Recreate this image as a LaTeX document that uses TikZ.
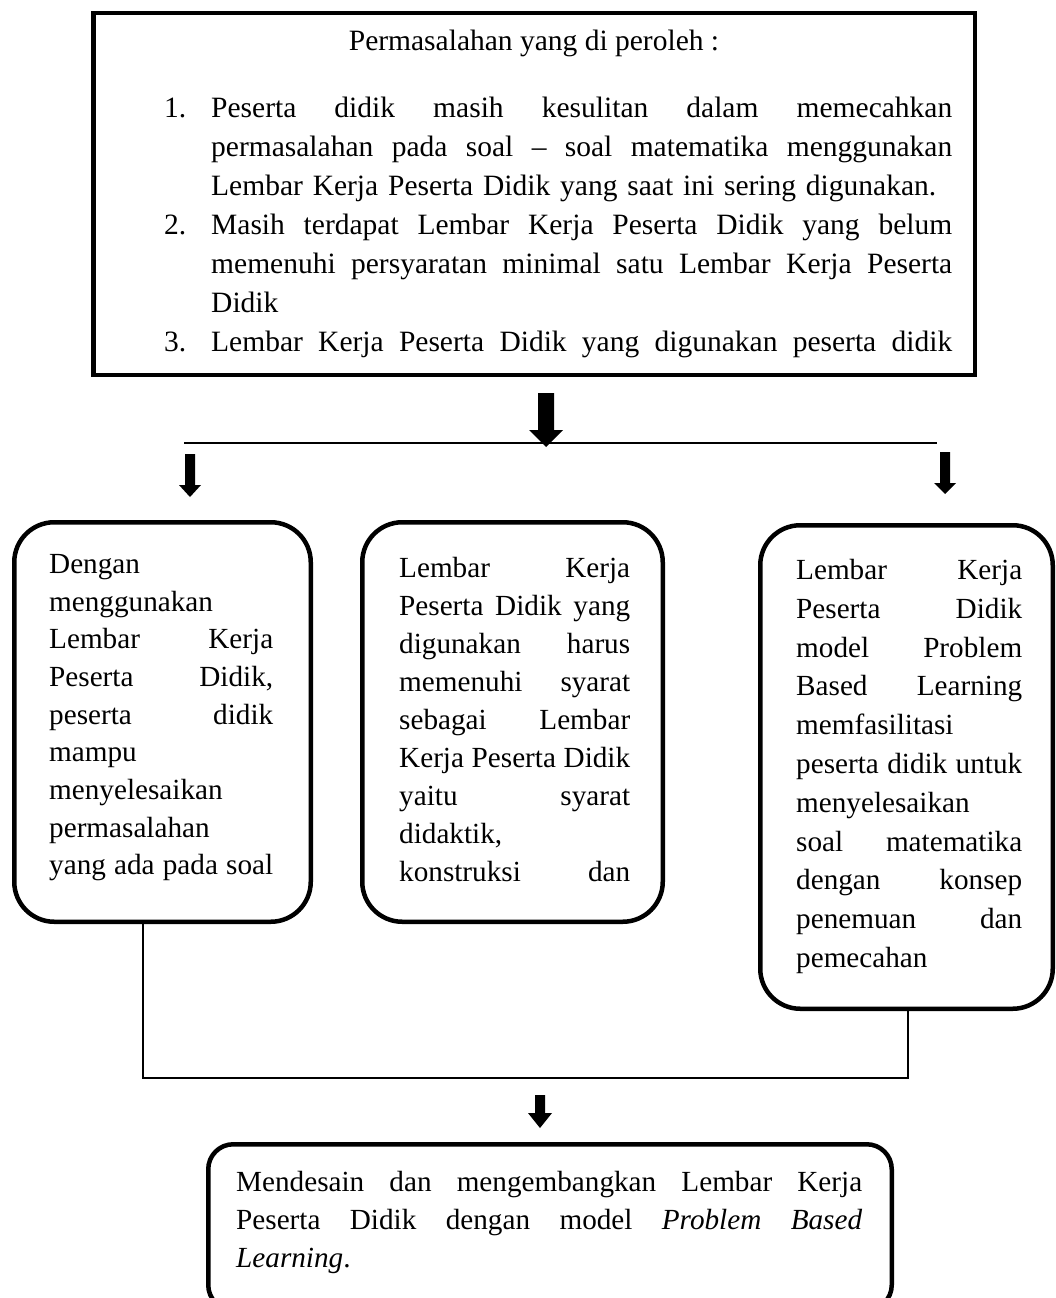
\documentclass[tikz,border=0pt]{standalone}
\usepackage{fontspec}
\setmainfont{Liberation Serif}
\newcommand\jl[1]{\noindent\hbox to \hsize{\spaceskip=.25em plus 1fil\relax #1}}
\newcommand\barrow[6]{\fill (#1-#5,#2) -- (#1+#5,#2) -- (#1+#5,#3) -- (#1+#6,#3) -- (#1,#4) -- (#1-#6,#3) -- (#1-#5,#3) -- cycle;}
\begin{document}
\begin{tikzpicture}[x=1pt,y=-1pt,
  sqbox/.style={draw, line width=4.5pt, inner sep=0pt, outer sep=0pt, anchor=north west},
  rbox/.style={draw, line width=4.5pt, rounded corners=40pt, inner sep=0pt, outer sep=0pt, anchor=north west},
  boxtext/.style={inner sep=0pt, anchor=north west, align=left, font=\fontsize{29.2}{37.7}\selectfont},
  toptext/.style={inner sep=0pt, anchor=north west, align=left, font=\fontsize{29.5}{39}\selectfont},
  conn/.style={line width=2pt}]
\useasboundingbox (0,0) rectangle (1056,1298);
\clip (0,0) rectangle (1056,1298);
\fill[white] (0,0) rectangle (1056,1298);

% top box
\node[sqbox, minimum width=881.5pt, minimum height=361.5pt] (top) at (93.25,13.25) {};
\node[toptext, anchor=base] (title) at (534,51) {Permasalahan yang di peroleh :};
\node[toptext, text width=741pt] (items) at (211,97) {%
\jl{\llap{\makebox[47pt][l]{1.}}Peserta didik masih kesulitan dalam memecahkan}\\
\jl{permasalahan pada soal – soal matematika menggunakan}\\
Lembar Kerja Peserta Didik yang saat ini sering digunakan.\\
\jl{\llap{\makebox[47pt][l]{2.}}Masih terdapat Lembar Kerja Peserta Didik yang belum}\\
\jl{memenuhi persyaratan minimal satu Lembar Kerja Peserta}\\
Didik\\
\jl{\llap{\makebox[47pt][l]{3.}}Lembar Kerja Peserta Didik yang digunakan peserta didik}};

% arrows and splitter line
\barrow{546}{393}{430}{447}{8}{17}
\coordinate (hl) at (184,443);
\coordinate (hr) at (937,443);
\draw[conn] (hl) -- (hr);
\barrow{190}{454}{485}{497}{5}{11}
\barrow{945}{452}{483}{494}{5}{11}

% three rounded boxes
\node[rbox, minimum width=296.5pt, minimum height=399.5pt] (L) at (14.25,522.25) {};
\node[rbox, minimum width=300.5pt, minimum height=399.5pt] (M) at (362.25,522.25) {};
\node[rbox, minimum width=292.5pt, minimum height=483.5pt] (R) at (760.25,525.25) {};

\node[boxtext, text width=224pt] (tL) at (49,554) {%
Dengan\\
menggunakan\\
\jl{Lembar Kerja}\\
\jl{Peserta Didik,}\\
\jl{peserta didik}\\
mampu\\
menyelesaikan\\
permasalahan\\
\jl{yang ada pada soal}};

\node[boxtext, text width=231pt, font=\fontsize{29.2}{38}\selectfont] (tM) at (399,557) {%
\jl{Lembar Kerja}\\
\jl{Peserta Didik yang}\\
\jl{digunakan harus}\\
\jl{memenuhi syarat}\\
\jl{sebagai Lembar}\\
\jl{Kerja Peserta Didik}\\
\jl{yaitu syarat}\\
didaktik,\\
\jl{konstruksi dan}};

\node[boxtext, text width=226pt, font=\fontsize{29.2}{38.8}\selectfont] (tR) at (796,559) {%
\jl{Lembar Kerja}\\
\jl{Peserta Didik}\\
\jl{model Problem}\\
\jl{Based Learning}\\
memfasilitasi\\
\jl{peserta didik untuk}\\
menyelesaikan\\
\jl{soal matematika}\\
\jl{dengan konsep}\\
\jl{penemuan dan}\\
pemecahan};

% joining connector
\coordinate (jL) at (143,1078);
\coordinate (jR) at (908,1078);
\draw[conn] (L.south -| jL) -- (jL) -- (jR) -- (R.south -| jR);
\barrow{540}{1095}{1113}{1128}{5}{12}

% bottom box
\node[rbox, rounded corners=25pt, minimum width=683.5pt, minimum height=165.75pt] (B) at (208.25,1144.25) {};
\node[boxtext, text width=626pt, font=\fontsize{29.2}{38}\selectfont] (tB) at (236,1171) {%
\jl{Mendesain dan mengembangkan Lembar Kerja}\\
\jl{Peserta Didik dengan model \textit{Problem Based}}\\
\textit{Learning}.};
\end{tikzpicture}
\end{document}
